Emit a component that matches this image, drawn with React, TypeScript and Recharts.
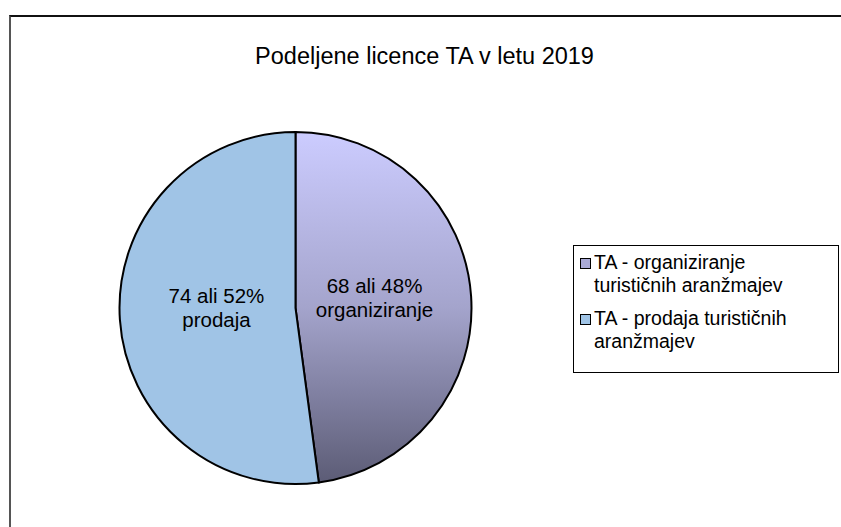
import { PieChart, Pie, Cell, Legend } from 'recharts'

const categories = ['TA - organiziranje turističnih aranžmajev', 'TA - prodaja turističnih aranžmajev']
const shortNames = ['organiziranje', 'prodaja']
const values = [68, 74]
const fills = ['url(#orgGrad)', '#a0c4e6']
const legendSwatches = ['#a9a9d6', '#a0c4e6']

const data = categories.map((name, i) => ({ name, value: values[i], short: shortNames[i] }))

const FONT = '"Liberation Sans", Arial, sans-serif'
const RAD = Math.PI / 180

function SliceLabel(props: any) {
  const { cx, cy, midAngle, outerRadius, percent, value, payload } = props
  const r = outerRadius * 0.45
  const x = cx + r * Math.cos(-midAngle * RAD)
  const y = cy + r * Math.sin(-midAngle * RAD) - 5
  return (
    <text x={x} y={y} textAnchor="middle" fontSize={20.5} fontFamily={FONT} fill="#000">
      <tspan x={x} dy={-5}>{`${value} ali ${Math.round(percent * 100)}%`}</tspan>
      <tspan x={x} dy={24}>{payload.short}</tspan>
    </text>
  )
}

function LegendBox({ payload }: any) {
  return (
    <div style={{
      width: 266, height: 128, border: '1px solid #000', boxSizing: 'border-box',
      fontFamily: FONT, fontSize: 19.5, lineHeight: '23px', padding: '5px 0 0 6px', background: '#fff',
    }}>
      {(payload ?? []).map((p: any, i: number) => (
        <div key={i} style={{ display: 'flex', alignItems: 'flex-start', marginBottom: 10 }}>
          <span style={{
            display: 'inline-block', width: 9, height: 9, marginTop: 7, marginRight: 3, flexShrink: 0,
            border: '1px solid #000', background: legendSwatches[i],
          }} />
          <span style={{ width: 230 }}>{p.value}</span>
        </div>
      ))}
    </div>
  )
}

export default function App() {
  return (
    <div style={{ position: 'relative', width: 841, height: 527, overflow: 'hidden', background: '#fff' }}>
      <style>{'html, body { margin: 0; overflow: hidden; }'}</style>
      <div style={{
        position: 'absolute', left: 9, top: 15, width: 900, height: 600,
        borderTop: '2px solid #111', borderLeft: '2px solid #555',
      }} />
      <div style={{
        position: 'absolute', left: 8, top: 43, width: 833, textAlign: 'center',
        fontFamily: FONT, fontSize: 23.5, color: '#000',
      }}>
        Podeljene licence TA v letu 2019
      </div>
      <div style={{ position: 'absolute', left: 0, top: 0 }}>
        <PieChart width={841} height={527}>
          <defs>
            <linearGradient id="orgGrad" x1="0" y1="0" x2="0" y2="1">
              <stop offset="0%" stopColor="#ccccff" />
              <stop offset="50%" stopColor="#a4a4cc" />
              <stop offset="100%" stopColor="#5c5c76" />
            </linearGradient>
          </defs>
          <Pie
            data={data}
            dataKey="value"
            nameKey="name"
            cx={290.5}
            cy={303}
            outerRadius={176}
            startAngle={90}
            endAngle={-270}
            stroke="#000"
            strokeWidth={2}
            label={SliceLabel}
            labelLine={false}
            isAnimationActive={false}
          >
            {data.map((d, i) => (
              <Cell key={d.name} fill={fills[i]} />
            ))}
          </Pie>
          <Legend
            layout="vertical"
            content={LegendBox}
            wrapperStyle={{ position: 'absolute', left: 573, top: 245, width: 266 }}
          />
        </PieChart>
      </div>
    </div>
  )
}
